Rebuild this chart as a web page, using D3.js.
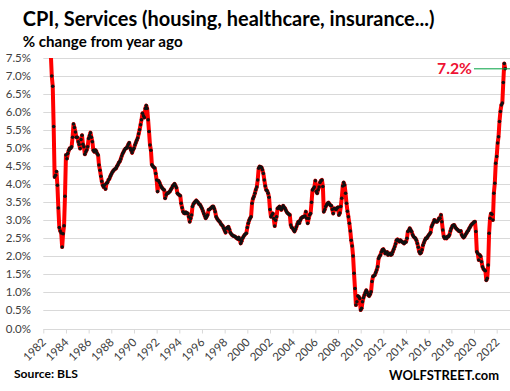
<!DOCTYPE html>
<html>
<head>
<meta charset="utf-8">
<script src="https://cdn.jsdelivr.net/npm/d3@7"></script>
<style>
  html, body { margin: 0; padding: 0; background: #fff; }
  svg { display: block; font-family: Lato, "Open Sans", sans-serif; }
</style>
</head>
<body>
<svg id="chart" width="510" height="391"></svg>
<script>
// CPI services, % change from year ago, monthly from Jan 1982
var startYear = 1982;
var cpiServices = [
  // 1982
  10.4, 10.2, 9.9, 9.7, 9.5, 9.3, 9.0, 8.4, 7.6, 7.0, 6.72, 5.6,
  // 1983
  4.2, 4.25, 4.35, 3.97, 3.34, 2.8, 2.7, 2.65, 2.26, 2.63, 2.85, 3.67,
  // 1984
  4.81, 4.71, 4.85, 4.94, 5.0, 5.0, 5.04, 5.3, 5.67, 5.57, 5.45, 5.3,
  // 1985
  5.3, 5.18, 5.1, 4.99, 5.24, 5.36, 5.11, 5.04, 4.83, 4.9, 4.95, 5.04,
  // 1986
  5.27, 5.35, 5.43, 5.3, 5.18, 4.94, 4.9, 4.95, 4.92, 4.85, 4.81, 4.53,
  // 1987
  4.39, 4.22, 4.08, 3.97, 3.92, 3.98, 3.87, 4.03, 4.05, 4.12, 4.15, 4.22,
  // 1988
  4.28, 4.33, 4.37, 4.4, 4.42, 4.44, 4.5, 4.54, 4.6, 4.63, 4.7, 4.78,
  // 1989
  4.85, 4.9, 4.95, 4.99, 5.0, 5.04, 5.1, 5.15, 5.0, 4.94, 4.87, 4.95,
  // 1990
  5.0, 5.09, 5.15, 5.22, 5.28, 5.4, 5.51, 5.65, 5.79, 5.97, 5.9, 5.85,
  // 1991
  6.1, 6.18, 6.1, 5.79, 5.46, 5.09, 4.94, 4.54, 4.5, 4.47, 4.45, 4.3,
  // 1992
  4.12, 3.8, 4.1, 4.05, 3.98, 3.93, 3.89, 3.86, 3.84, 3.61, 3.7, 3.75,
  // 1993
  3.75, 3.78, 3.8, 3.85, 3.89, 3.95, 3.98, 4.01, 3.96, 3.9, 3.75, 3.72,
  // 1994
  3.7, 3.68, 3.47, 3.35, 3.24, 3.2, 3.19, 3.22, 3.2, 3.19, 3.1, 2.96,
  // 1995
  3.05, 3.15, 3.38, 3.45, 3.49, 3.52, 3.55, 3.52, 3.49, 3.45, 3.43, 3.38,
  // 1996
  3.33, 3.26, 3.19, 3.12, 3.06, 3.1, 3.15, 3.29, 3.3, 3.33, 3.35, 3.38,
  // 1997
  3.38, 3.32, 3.24, 3.1, 3.05, 3.01, 2.98, 2.95, 2.9, 2.87, 2.84, 2.78,
  // 1998
  2.72, 2.66, 2.78, 2.8, 2.82, 2.75, 2.66, 2.62, 2.59, 2.57, 2.56, 2.55,
  // 1999
  2.52, 2.5, 2.48, 2.52, 2.47, 2.36, 2.42, 2.5, 2.55, 2.59, 2.62, 2.64,
  // 2000
  2.8, 2.92, 3.0, 3.06, 3.1, 3.47, 3.6, 3.66, 3.75, 3.85, 3.92, 4.12,
  // 2001
  4.44, 4.49, 4.48, 4.47, 4.4, 4.3, 4.12, 3.95, 3.84, 3.82, 3.75, 3.64,
  // 2002
  3.3, 3.1, 3.15, 3.19, 3.05, 2.84, 3.0, 3.1, 3.33, 3.35, 3.38, 3.33,
  // 2003
  3.29, 3.35, 3.4, 3.36, 3.33, 3.27, 3.22, 3.19, 3.17, 3.15, 2.87, 2.8,
  // 2004
  2.78, 2.73, 2.69, 2.75, 2.82, 2.9, 2.96, 2.92, 3.0, 3.06, 3.08, 3.1,
  // 2005
  3.1, 3.12, 3.24, 3.06, 2.92, 3.05, 3.15, 3.19, 3.5, 3.84, 3.88, 3.92,
  // 2006
  4.1, 3.8, 3.75, 3.85, 3.92, 4.05, 4.1, 4.12, 3.94, 3.24, 3.3, 3.38,
  // 2007
  3.43, 3.47, 3.49, 3.45, 3.42, 3.4, 3.3, 3.19, 3.33, 3.32, 3.3, 3.34,
  // 2008
  3.36, 3.15, 3.2, 3.38, 3.61, 3.95, 4.05, 3.98, 3.75, 3.47, 3.25, 3.1,
  // 2009
  2.92, 2.7, 2.45, 2.29, 2.01, 1.53, 1.11, 0.65, 0.74, 0.9, 0.88, 0.83,
  // 2010
  0.51, 0.56, 0.74, 0.85, 0.93, 1.0, 1.06, 1.0, 0.93, 0.9, 0.95, 1.02,
  // 2011
  1.3, 1.44, 1.46, 1.48, 1.55, 1.62, 1.71, 1.94, 2.0, 2.04, 2.13, 2.18,
  // 2012
  2.2, 2.15, 2.08, 2.1, 2.12, 2.04, 2.06, 2.08, 2.04, 2.06, 2.13, 2.2,
  // 2013
  2.27, 2.35, 2.45, 2.47, 2.43, 2.41, 2.45, 2.42, 2.4, 2.38, 2.36, 2.4,
  // 2014
  2.4, 2.5, 2.69, 2.72, 2.78, 2.73, 2.69, 2.6, 2.55, 2.52, 2.5, 2.45,
  // 2015
  2.36, 2.25, 2.13, 2.08, 2.1, 2.18, 2.31, 2.38, 2.45, 2.5, 2.5, 2.55,
  // 2016
  2.59, 2.62, 2.66, 2.82, 2.88, 2.94, 3.01, 2.97, 2.96, 2.96, 3.0, 3.06,
  // 2017
  3.06, 3.15, 2.96, 2.73, 2.55, 2.5, 2.52, 2.5, 2.55, 2.55, 2.6, 2.7,
  // 2018
  2.78, 2.84, 2.86, 2.87, 2.82, 2.78, 2.75, 2.73, 2.7, 2.69, 2.7, 2.6,
  // 2019
  2.55, 2.52, 2.55, 2.6, 2.64, 2.69, 2.72, 2.78, 2.82, 2.87, 2.9, 2.92,
  // 2020
  2.95, 2.96, 2.69, 2.13, 2.08, 1.9, 2.04, 2.0, 1.85, 1.71, 1.65, 1.62,
  // 2021
  1.6, 1.34, 1.39, 1.76, 2.64, 3.06, 3.19, 3.17, 3.01, 3.75, 4.03, 4.58,
  // 2022
  4.77, 5.14, 5.32, 5.74, 6.02, 6.2, 6.25, 6.82, 7.35, 7.2
];

var yTicks = [0, 0.5, 1, 1.5, 2, 2.5, 3, 3.5, 4, 4.5, 5, 5.5, 6, 6.5, 7, 7.5];
var xTickYears = d3.range(1982, 2023, 2);

var titleText = "CPI, Services (housing, healthcare, insurance...)";
var subtitleText = "% change from year ago";
var sourceText = "Source: BLS";
var brandText = "WOLFSTREET.com";

var data = cpiServices.map(function (v, i) {
    return { date: new Date(Date.UTC(startYear, i, 1)), value: v };
});
var last = data[data.length - 1];

var svg = d3.select("#chart");
var plot = { left: 43.3, right: 510, top: 58, bottom: 328.5 };

var x = d3.scaleUtc()
    .domain([new Date(Date.UTC(1982, 0, 1)), new Date(Date.UTC(2022, 0, 1))])
    .range([plot.left, 496.7]);

var y = d3.scaleLinear()
    .domain([0, 7.5])
    .range([plot.bottom, plot.top]);

// shrink/grow a text node until it spans the wanted width
function fitWidth(sel, width) {
    var node = sel.node();
    var size = parseFloat(sel.attr("font-size"));
    var w = node.getComputedTextLength();
    sel.attr("font-size", (size * width / w).toFixed(2));
}

// gridlines
svg.append("g")
    .selectAll("line")
    .data(yTicks.filter(function (d) { return d > 0; }))
    .enter()
    .append("line")
    .attr("x1", plot.left)
    .attr("x2", plot.right)
    .attr("y1", function (d) { return Math.round(y(d)) + 0.5; })
    .attr("y2", function (d) { return Math.round(y(d)) + 0.5; })
    .attr("stroke", "#d9d9d9")
    .attr("stroke-width", 1);

// y labels
svg.append("g")
    .selectAll("text")
    .data(yTicks)
    .enter()
    .append("text")
    .attr("x", 31)
    .attr("y", function (d) { return y(d) + 4; })
    .attr("text-anchor", "end")
    .attr("font-size", 11.5)
    .attr("fill", "#404040")
    .text(function (d) { return d.toFixed(1) + "%"; });

// x axis
var xAxis = d3.axisBottom(x)
    .tickValues(xTickYears.map(function (yr) { return new Date(Date.UTC(yr, 0, 1)); }))
    .tickSize(4)
    .tickFormat("");

var gx = svg.append("g")
    .attr("transform", "translate(0," + (Math.round(plot.bottom) + 0.5) + ")")
    .call(xAxis);
gx.select(".domain").attr("d", "M" + plot.left + ",0H" + plot.right).attr("stroke", "#d9d9d9");
gx.selectAll(".tick line").attr("stroke", "#d9d9d9");

svg.append("g")
    .selectAll("text")
    .data(xTickYears)
    .enter()
    .append("text")
    .attr("transform", function (yr) {
        return "translate(" + (x(new Date(Date.UTC(yr, 0, 1))) + 3.5) + ",343) rotate(-45)";
    })
    .attr("text-anchor", "end")
    .attr("font-size", 11.5)
    .attr("fill", "#404040")
    .text(function (yr) { return yr; });

// clip to plot area
svg.append("clipPath")
    .attr("id", "plotClip")
    .append("rect")
    .attr("x", plot.left)
    .attr("y", plot.top)
    .attr("width", plot.right - plot.left)
    .attr("height", plot.bottom - plot.top);

var line = d3.line()
    .x(function (d) { return x(d.date); })
    .y(function (d) { return y(d.value); });

var series = svg.append("g").attr("clip-path", "url(#plotClip)");

series.append("path")
    .datum(data)
    .attr("d", line)
    .attr("fill", "none")
    .attr("stroke", "#ff0000")
    .attr("stroke-width", 4)
    .attr("stroke-linejoin", "round");

series.selectAll("circle")
    .data(data)
    .enter()
    .append("circle")
    .attr("cx", function (d) { return x(d.date); })
    .attr("cy", function (d) { return y(d.value); })
    .attr("r", 1.75)
    .attr("fill", "#111");

// latest value marker
var lastLabel = svg.append("text")
    .attr("x", 472)
    .attr("y", y(last.value) + 5.5)
    .attr("text-anchor", "end")
    .attr("font-size", 16)
    .attr("font-weight", "bold")
    .attr("fill", "#ee1133")
    .text(last.value.toFixed(1) + "%");
fitWidth(lastLabel, 35);

svg.append("line")
    .attr("x1", 474)
    .attr("x2", plot.right)
    .attr("y1", y(last.value))
    .attr("y2", y(last.value))
    .attr("stroke", "#00a040")
    .attr("stroke-width", 1);

// titles
var title = svg.append("text")
    .attr("x", 22.7)
    .attr("y", 26)
    .attr("font-size", 18)
    .attr("font-weight", "bold")
    .attr("fill", "#000")
    .text(titleText);
fitWidth(title, 412);

var subtitle = svg.append("text")
    .attr("x", 22.7)
    .attr("y", 46.5)
    .attr("font-size", 12)
    .attr("font-weight", "bold")
    .attr("fill", "#000")
    .text(subtitleText);
fitWidth(subtitle, 160);

var source = svg.append("text")
    .attr("x", 14)
    .attr("y", 378)
    .attr("font-size", 11)
    .attr("font-weight", "bold")
    .attr("fill", "#000")
    .text(sourceText);
fitWidth(source, 64);

var brand = svg.append("text")
    .attr("x", 499)
    .attr("y", 380)
    .attr("text-anchor", "end")
    .attr("font-size", 13)
    .attr("font-weight", "bold")
    .attr("fill", "#000")
    .text(brandText);
fitWidth(brand, 110);
</script>
</body>
</html>
